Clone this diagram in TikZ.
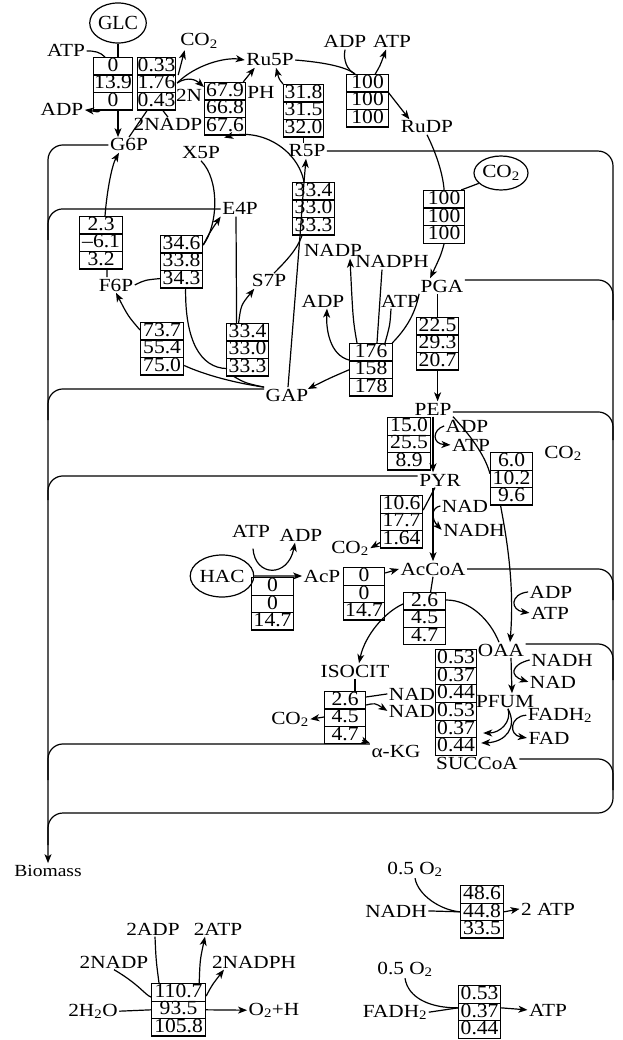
\documentclass[tikz,border=0pt]{standalone}
\usepackage{fontspec}
\setmainfont{Liberation Serif}
\newfontfamily\labfont[FakeStretch=1.15]{Liberation Serif}
\newfontfamily\numfont[FakeStretch=1.08]{Liberation Serif}
\usetikzlibrary{arrows.meta,shapes.multipart,shapes.geometric,calc}
\setlength\parindent{0pt}
\newcommand\rr{\rule[-3pt]{0pt}{14.8pt}}
\newcommand\tri[3]{\rr#1\nodepart{two}\rr#2\nodepart{three}\rr#3}
\newcommand\sbs[1]{\textsubscript{#1}}
\begin{document}
\begin{tikzpicture}[x=1pt,y=-1pt, line width=1.2pt, >={Stealth[length=9pt,width=7pt,inset=2.5pt]},
 lab/.style={inner sep=1pt, anchor=base, font=\labfont\fontsize{18.5}{20}\selectfont},
 fl/.style={draw, rectangle split, rectangle split parts=3, inner sep=0pt, text width=#1, align=center, anchor=north west, font=\numfont\fontsize{20}{22}\selectfont},
 fl/.default=42pt,
 ell/.style={ellipse, draw, inner sep=0pt, font=\labfont\fontsize{18.5}{20}\selectfont},
 brk/.style={rounded corners=15pt}]
\fill[white] (0,0) rectangle (622,1040);
\useasboundingbox (0,0) rectangle (622,1040);

% ---------- flux boxes ----------
\node[fl=39pt] (bHK) at (93,57) {\tri{0}{13.9}{0}};
\node[fl=38pt] (bG6PDH) at (137,57) {\tri{0.33}{1.76}{0.43}};
\node[fl=41pt] (bPH) at (204,82) {\tri{67.9}{66.8}{67.6}};
\node[fl=40pt] (bR5Pi) at (283,84) {\tri{31.8}{31.5}{32.0}};
\node[fl=42pt] (bPRK) at (346,74) {\tri{100}{100}{100}};
\node[fl=41pt] (bRub) at (423,190) {\tri{100}{100}{100}};
\node[fl=43pt] (bPGI) at (79,216) {\tri{2.3}{–6.1}{3.2}};
\node[fl] (bTK1) at (160,235) {\tri{34.6}{33.8}{34.3}};
\node[fl] (bTK2) at (292,182) {\tri{33.4}{33.0}{33.3}};
\node[fl] (bTA) at (226,323) {\tri{33.4}{33.0}{33.3}};
\node[fl=43pt] (bALD) at (140,322) {\tri{73.7}{55.4}{75.0}};
\node[fl=43pt] (bGAPDH) at (349,343) {\tri{176}{158}{178}};
\node[fl] (bPGA) at (416,317) {\tri{22.5}{29.3}{20.7}};
\node[fl=43pt] (bPK) at (387,417) {\tri{15.0}{25.5}{8.9}};
\node[fl] (bPPC) at (490,452) {\tri{6.0}{10.2}{9.6}};
\node[fl] (bPDH) at (380,495) {\tri{10.6}{17.7}{1.64}};
\node[fl] (bACK) at (251,577) {\tri{0}{0}{14.7}};
\node[fl=41pt] (bPTA) at (343,567) {\tri{0}{0}{14.7}};
\node[fl] (bCS) at (403,592) {\tri{2.6}{4.5}{4.7}};
\node[fl=41pt] (bICD) at (324,691) {\tri{2.6}{4.5}{4.7}};
\node[fl=41pt] (bFUM1) at (435,649) {\tri{0.53}{0.37}{0.44}};
\node[fl=41pt] (bFUM2) at (435,702) {\tri{0.53}{0.37}{0.44}};
\node[fl=43pt] (bNADH) at (460,885) {\tri{48.6}{44.8}{33.5}};
\node[fl] (bFADH) at (458,985) {\tri{0.53}{0.37}{0.44}};
\node[fl=54pt] (bPS) at (151,983) {\tri{110.7}{93.5}{105.8}};

% ---------- ellipses ----------
\node[ell, minimum width=54pt, minimum height=40pt, font=\fontsize{20}{22}\selectfont] (GLC) at (118,23) {GLC};
\node[ell, minimum width=54pt, minimum height=34pt] (CO2b) at (501,173) {CO\sbs{2}};
\node[ell, minimum width=52pt, minimum height=42pt] (HAC) at (222,576) {HAC};

% ---------- labels ----------
\node[lab] (ATPa) at (66,57) {ATP};
\node[lab] (ADPa) at (62,116) {ADP};
\node[lab] (CO2a) at (199,46) {CO\sbs{2}};
\node[lab] (Ru5P) at (270,66) {Ru5P};
\node[lab] (twoN) at (189,102) {2N};
\node[lab] (PH) at (261,99) {PH};
\node[lab] (twoNADP) at (168,131) {2NADP};
\node[lab] (G6P) at (129,151) {G6P};
\node[lab] (X5P) at (201,159) {X5P};
\node[lab] (R5P) at (307,157) {R5P};
\node[lab] (ADPb) at (345,48) {ADP};
\node[lab] (ATPb) at (392,48) {ATP};
\node[lab] (RuDP) at (427,133) {RuDP};
\node[lab] (PGA) at (442,292) {PGA};
\node[lab] (E4P) at (240,215) {E4P};
\node[lab] (F6P) at (116,291) {F6P};
\node[lab] (S7P) at (269,287) {S7P};
\node[lab] (GAP) at (287,401) {GAP};
\node[lab] (NADPb) at (333,257) {NADP};
\node[lab] (NADPHb) at (392,268) {NADPH};
\node[lab] (ADPc) at (323,307) {ADP};
\node[lab] (ATPc) at (400,307) {ATP};
\node[lab] (PEP) at (433,415) {PEP};
\node[lab] (ADPd) at (467,432) {ADP};
\node[lab] (ATPd) at (471,451) {ATP};
\node[lab] (PYR) at (440,486) {PYR};
\node[lab] (CO2c) at (563,458) {CO\sbs{2}};
\node[lab] (NADe) at (465,512) {NAD};
\node[lab] (NADHe) at (474,536) {NADH};
\node[lab] (CO2d) at (350,553) {CO\sbs{2}};
\node[lab] (ATPf) at (251,537) {ATP};
\node[lab] (ADPf) at (301,541) {ADP};
\node[lab] (AcP) at (322,582) {AcP};
\node[lab] (AcCoA) at (433,575) {AcCoA};
\node[lab] (ADPg) at (551,598) {ADP};
\node[lab] (ATPg) at (550,619) {ATP};
\node[lab] (OAA) at (501,656) {OAA};
\node[lab] (NADHh) at (562,666) {NADH};
\node[lab] (NADh) at (553,688) {NAD};
\node[lab] (ISOCIT) at (355,677) {ISOCIT};
\node[lab] (NADi) at (412,700) {NAD};
\node[lab] (NADj) at (412,717) {NAD};
\node[lab] (CO2e) at (290,724) {CO\sbs{2}};
\node[lab] (PFUM) at (505,707) {PFUM};
\node[lab] (FADH2) at (560,720) {FADH\sbs{2}};
\node[lab] (FAD) at (549,744) {FAD};
\node[lab] (aKG) at (396,757) {α-KG};
\node[lab] (SUCCoA) at (477,769) {SUCCoA};
\node[lab, font=\labfont\fontsize{17}{19}\selectfont] (Biomass) at (48,876) {Biomass};
\node[lab] (O2a) at (415,874) {0.5 O\sbs{2}};
\node[lab] (NADHk) at (396,917) {NADH};
\node[lab] (ATP2) at (548,915) {2 ATP};
\node[lab] (O2b) at (405,974) {0.5 O\sbs{2}};
\node[lab] (FADH2b) at (395,1017) {FADH\sbs{2}};
\node[lab] (ATPl) at (548,1016) {ATP};
\node[lab] (twoADP) at (153,935) {2ADP};
\node[lab] (twoATP) at (218,935) {2ATP};
\node[lab] (twoNADP2) at (114,968) {2NADP};
\node[lab] (twoNADPH) at (254,968) {2NADPH};
\node[lab] (twoH2O) at (93,1016) {2H\sbs{2}O};
\node[lab] (O2H) at (274,1015) {O\sbs{2}+H};

% ---------- top: glycolysis entry / PP ----------
\draw (GLC.south) -- (GLC.south |- bHK.north);
\draw (ATPa.east) .. controls (95,51) and (100,52) .. ($(bHK.north west)+(12,0)$);
\draw[->] ($(bHK.south west)+(7,0)$) .. controls (98,113) and (94,111) .. (ADPa.east);
\draw[->] (GLC.south |- bHK.south) -- (GLC.south |- G6P.north);
\draw[->] ($(bG6PDH.north east)+(2,18)$) -- ($(CO2a.south west)+(6,0)$);
\draw[->] ($(bG6PDH.north east)+(1,26)$) .. controls (195,65) and (225,57) .. (Ru5P.west);
\draw[->] ($(bG6PDH.north east)+(1,26)$) .. controls (188,76) and (196,80) .. ($(bPH.north west)+(0,5)$);
\draw (G6P.north) -- ($(bG6PDH.south west)+(10,0)$);
\draw ($(bG6PDH.south west)+(26,0)$) .. controls (164,112) .. (twoNADP.north);
\draw[->] ($(bPH.north east)+(-3,0)$) .. controls (248,76) .. ($(Ru5P.south west)+(10,0)$);
\draw[->] (bR5Pi.north west) .. controls (279,79) .. ($(Ru5P.south)+(6,0)$);
\draw (bR5Pi.south) -- (bR5Pi.south |- R5P.north);
\draw (Ru5P.east) .. controls (320,62) and (345,66) .. ($(bPRK.north west)+(9,0)$);
\draw (ADPb.south) .. controls (343,60) and (347,70) .. ($(bPRK.north west)+(9,0)$);
\draw[->] ($(bPRK.north east)+(-14,0)$) .. controls (380,66) .. ($(ATPb.south)+(-6,0)$);
\draw[->] ($(bPRK.north west)+(42,18)$) -- ($(RuDP.north west)+(10,0)$);
\draw (RuDP.south) .. controls (437,155) and (443,175) .. (bRub.north);
\draw (CO2b.205) -- ($(bRub.north east)+(-4,0)$);
\draw[->] (bRub.south) .. controls (441,255) .. ($(PGA.north west)+(11,0)$);

% ---------- pentose phosphate / Calvin ----------
\draw[->] ($(bPGI.north west)+(26,0)$) .. controls (107,190) and (112,165) .. ($(G6P.south)+(-10,0)$);
\draw ($(bPGI.south)+(6,0)$) -- ($(F6P.north)+(-9,0)$);
\draw (F6P.east) .. controls (145,280) .. ($(bTK1.south west)+(0,-10)$);
\draw[->] ($(bTK1.north east)+(0,10)$) .. controls (210,232) .. (E4P.south west);
\draw (X5P.south) .. controls (220,180) and (218,225) .. ($(bTK1.north east)+(0,10)$);
\draw ($(E4P.south)+(-4,0)$) -- ($(bTA.north)+(-11,0)$);
\draw[->] ($(bTA.north)+(-9,0)$) .. controls (241,305) .. ($(S7P.south west)+(4,0)$);
\draw ($(S7P.north)+(5,0)$) .. controls (285,262) and (297,250) .. ($(bTK2.south west)+(10,0)$);
\draw[->] ($(GAP.north)+(1,0)$) -- ($(bTK2.south west)+(8,0)$) -- ($(bTK2.north west)+(12,0)$) -- ($(R5P.south)+(-1,0)$);
\draw[->] ($(bTK2.north west)+(12,0)$) .. controls (298,150) and (262,128) .. ($(bPH.south east)+(-22,2)$);
\draw[->] ($(bALD.north west)+(0,8)$) .. controls (128,316) .. (F6P.south);
\draw ($(bALD.south east)+(0,-10)$) .. controls (205,375) and (235,383) .. (GAP.north west);
\draw ($(bTK1.south)+(4,0)$) .. controls (185,340) and (200,368) .. ($(bTA.south west)+(1,-8)$);
\draw ($(bTA.south west)+(8,0)$) .. controls (245,383) .. (GAP.north west);

% ---------- GAPDH region ----------
\draw[->] (bGAPDH.west) .. controls (330,378) .. ($(GAP.east)+(-2,-6)$);
\draw[->] ($(bGAPDH.north west)+(8,0)$) .. controls (353,320) .. ($(NADPb.south)+(17,0)$);
\draw ($(NADPHb.south)+(-10,0)$) -- ($(bGAPDH.north west)+(28,0)$);
\draw ($(ATPc.south)+(-9,0)$) .. controls (390,325) .. ($(bGAPDH.north west)+(36,0)$);
\draw ($(bGAPDH.north east)+(-1,0)$) .. controls (405,330) and (415,315) .. (PGA.south west);
\draw[->] ($(bGAPDH.north west)+(0,17)$) .. controls (330,355) and (326,330) .. ($(ADPc.south)+(4,0)$);

% ---------- lower glycolysis ----------
\draw (bPGA.north) -- (bPGA.north |- PGA.south);
\draw[->] (bPGA.south) -- (bPGA.south |- PEP.north);
\draw[->] (PEP.south) -- (PEP.south |- PYR.north);
\draw[->] (ADPd.west) .. controls (432,430) and (432,444) .. (ATPd.west);
\draw (PEP.south east) .. controls (470,435) and (485,455) .. ($(bPPC.west)+(0,-5)$);
\draw[->] ($(bPPC.south)+(-11,0)$) .. controls (505,530) and (515,580) .. ($(OAA.north)+(9,0)$);
\draw[->] (ADPg.west) .. controls (510,594) and (510,610) .. (ATPg.west);
\draw[->] (PYR.south -| AcCoA.north) -- (AcCoA.north);
\draw[->] (NADe.west) .. controls (430,508) and (432,520) .. (NADHe.west);
\draw ($(PYR.south)+(-5,0)$) -- ($(bPDH.north east)+(0,15)$);
\draw[->] ($(bPDH.south west)+(0,-6)$) -- (CO2d.east);

% ---------- acetate ----------
\draw[->] (HAC.east) -- (AcP.west);
\draw[->] ($(ATPf.south)+(2,10)$) .. controls (255,577) and (288,578) .. ($(ADPf.south)+(-6,0)$);
\draw[->] ($(bPTA.north east)+(0,6)$) -- (AcCoA.west);

% ---------- TCA ----------
\draw (AcCoA.south) -- ($(bCS.north)+(6,0)$);
\draw[->] ($(bCS.north west)+(0,12)$) .. controls (385,612) and (365,635) .. ($(ISOCIT.north)+(4,0)$);
\draw ($(bCS.north east)+(0,8)$) .. controls (470,600) and (490,620) .. ($(OAA.north)+(-2,0)$);
\draw (ISOCIT.south) -- (ISOCIT.south |- bICD.north);
\draw (NADi.west) -- ($(bICD.north east)+(0,6)$);
\draw[->] ($(bICD.north east)+(0,14)$) .. controls (375,703) .. (NADj.west);
\draw[->] ($(bICD.north west)+(0,26)$) -- (CO2e.east);
\draw[->] ($(bICD.south east)+(-4,-4)$) -- (aKG.north west);
\draw[->] ($(OAA.south)+(10,0)$) -- ($(PFUM.north)+(7,0)$);
\draw[->] (NADHh.west) .. controls (510,665) and (510,676) .. (NADh.west);
\draw[->] ($(PFUM.south)+(3,0)$) .. controls (512,722) and (500,733) .. ($(bFUM2.north east)+(6,31)$);
\draw[->] ($(PFUM.south)+(3,0)$) .. controls (518,728) and (505,742) .. ($(bFUM2.north east)+(4,41)$);
\draw[->] (FADH2.west) .. controls (510,716) and (508,735) .. (FAD.west);

% ---------- biomass brackets ----------
\draw[->,brk] (G6P.west) -| (Biomass.north);
\draw[brk] (E4P.west) -| (48,240);
\draw[brk] ($(GAP.west)+(0,-6)$) -| (48,420);
\draw[brk] ($(PYR.west)+(0,-4)$) -| (48,500);
\draw[brk] ($(aKG.west)+(0,-7)$) -| (48,780);
\draw[brk] (R5P.east) -| (613,813) -| (48,845);
\draw[brk] ($(PGA.east)+(0,-6)$) -| (613,320);
\draw[brk] ($(PEP.east)+(0,3)$) -| (613,440);
\draw[brk] (AcCoA.east) -| (613,600);
\draw[brk] ($(OAA.east)+(0,-6)$) -| (613,680);
\draw[brk] ($(SUCCoA.east)+(0,-4)$) -| (613,790);

% ---------- respiration ----------
\draw (O2a.south) .. controls (418,895) and (440,910) .. (bNADH.west);
\draw (NADHk.east) -- (bNADH.west);
\draw[->] (bNADH.east) -- (ATP2.west);
\draw (O2b.south) .. controls (408,998) and (430,1008) .. ($(bFADH.west)+(0,-4)$);
\draw (FADH2b.east) -- ($(bFADH.west)+(0,-4)$);
\draw[->] ($(bFADH.east)+(0,-4)$) -- (ATPl.west);

% ---------- photosystem ----------
\draw (twoH2O.east) -- (bPS.west);
\draw[->] (bPS.east) -- (O2H.west);
\draw (twoNADP2.south) .. controls (140,985) and (145,995) .. ($(bPS.north west)+(0,14)$);
\draw ($(twoADP.south)+(2,0)$) .. controls (156,960) .. ($(bPS.north west)+(8,0)$);
\draw[->] ($(bPS.north east)+(-7,0)$) .. controls (200,960) .. ($(twoATP.south)+(-13,0)$);
\draw[->] ($(bPS.north east)+(0,13)$) .. controls (212,985) .. ($(twoNADPH.south)+(-30,0)$);
\end{tikzpicture}
\end{document}
